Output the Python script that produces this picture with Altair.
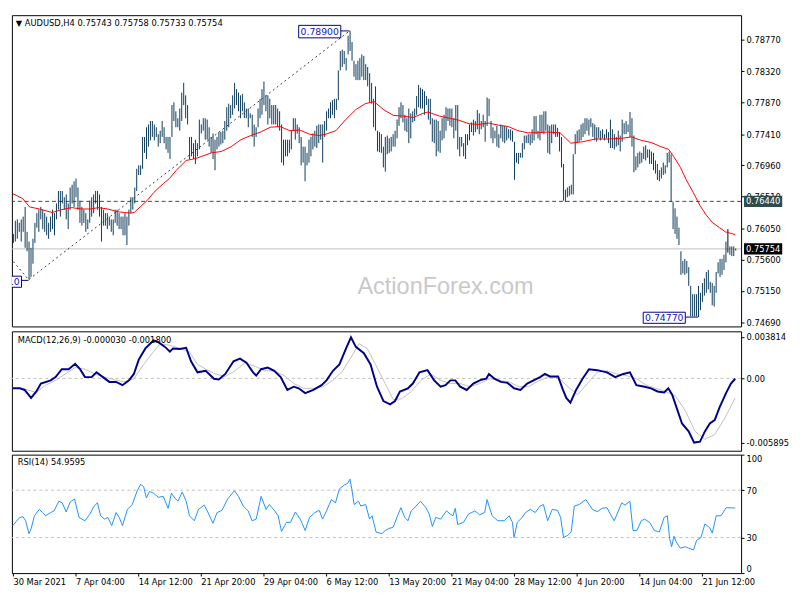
import altair as alt
import pandas as pd

# ---------------- data ----------------
highs = [
    0.7597, 0.7616, 0.7618, 0.7613, 0.7618, 0.7622, 0.7636, 0.7600, 0.7586, 0.7577,
    0.7590, 0.7613, 0.7627, 0.7632, 0.7636, 0.7632, 0.7627, 0.7622, 0.7613, 0.7622,
    0.7632, 0.7627, 0.7641, 0.7659, 0.7659, 0.7659, 0.7650, 0.7654, 0.7641, 0.7664,
    0.7668, 0.7673, 0.7677, 0.7664, 0.7645, 0.7636, 0.7632, 0.7627, 0.7618, 0.7645,
    0.7650, 0.7654, 0.7659, 0.7659, 0.7654, 0.7636, 0.7632, 0.7627, 0.7627, 0.7622,
    0.7618, 0.7618, 0.7632, 0.7632, 0.7627, 0.7622, 0.7622, 0.7627, 0.7622, 0.7632,
    0.7650, 0.7650, 0.7664, 0.7691, 0.7696, 0.7696, 0.7737, 0.7737, 0.7751, 0.7755,
    0.7760, 0.7760, 0.7755, 0.7751, 0.7741, 0.7746, 0.7760, 0.7751, 0.7737, 0.7737,
    0.7737, 0.7783, 0.7787, 0.7774, 0.7764, 0.7778, 0.7801, 0.7815, 0.7797, 0.7783,
    0.7737, 0.7737, 0.7728, 0.7733, 0.7728, 0.7762, 0.7755, 0.7764, 0.7764, 0.7762,
    0.7751, 0.7737, 0.7742, 0.7733, 0.7737, 0.7744, 0.7744, 0.7746, 0.7760, 0.7780,
    0.7785, 0.7783, 0.7797, 0.7815, 0.7806, 0.7801, 0.7797, 0.7799, 0.7787, 0.7778,
    0.7778, 0.7771, 0.7769, 0.7755, 0.7751, 0.7778, 0.7792, 0.7806, 0.7817, 0.7797,
    0.7797, 0.7792, 0.7783, 0.7783, 0.7783, 0.7778, 0.7774, 0.7755, 0.7733, 0.7733,
    0.7733, 0.7733, 0.7746, 0.7764, 0.7764, 0.7755, 0.7751, 0.7737, 0.7723, 0.7723,
    0.7714, 0.7733, 0.7737, 0.7742, 0.7746, 0.7753, 0.7755, 0.7755, 0.7755, 0.7760,
    0.7774, 0.7778, 0.7787, 0.7790, 0.7792, 0.7792, 0.7833, 0.7861, 0.7863, 0.7861,
    0.7851, 0.7883, 0.7890, 0.7874, 0.7847, 0.7842, 0.7847, 0.7851, 0.7856, 0.7854,
    0.7842, 0.7838, 0.7829, 0.7815, 0.7792, 0.7810, 0.7746, 0.7744, 0.7741, 0.7723,
    0.7737, 0.7739, 0.7735, 0.7737, 0.7741, 0.7746, 0.7762, 0.7780, 0.7787, 0.7783,
    0.7769, 0.7764, 0.7778, 0.7771, 0.7774, 0.7778, 0.7796, 0.7812, 0.7808, 0.7806,
    0.7803, 0.7796, 0.7792, 0.7792, 0.7764, 0.7762, 0.7762, 0.7760, 0.7746, 0.7764,
    0.7769, 0.7780, 0.7778, 0.7778, 0.7778, 0.7764, 0.7783, 0.7783, 0.7737, 0.7737,
    0.7728, 0.7741, 0.7741, 0.7755, 0.7758, 0.7762, 0.7760, 0.7776, 0.7771, 0.7760,
    0.7769, 0.7760, 0.7794, 0.7792, 0.7760, 0.7751, 0.7746, 0.7753, 0.7741, 0.7755,
    0.7753, 0.7753, 0.7751, 0.7748, 0.7748, 0.7746, 0.7730, 0.7714, 0.7714, 0.7714,
    0.7728, 0.7739, 0.7739, 0.7741, 0.7741, 0.7748, 0.7767, 0.7767, 0.7746, 0.7769,
    0.7769, 0.7774, 0.7774, 0.7755, 0.7753, 0.7755, 0.7755, 0.7755, 0.7750, 0.7744,
    0.7737, 0.7698, 0.7661, 0.7664, 0.7666, 0.7668, 0.7712, 0.7741, 0.7746, 0.7748,
    0.7755, 0.7757, 0.7764, 0.7764, 0.7762, 0.7764, 0.7757, 0.7755, 0.7751, 0.7751,
    0.7746, 0.7748, 0.7741, 0.7748, 0.7744, 0.7762, 0.7748, 0.7741, 0.7737, 0.7746,
    0.7739, 0.7762, 0.7757, 0.7760, 0.7755, 0.7773, 0.7764, 0.7739, 0.7709, 0.7714,
    0.7716, 0.7714, 0.7723, 0.7725, 0.7719, 0.7719, 0.7716, 0.7714, 0.7703, 0.7698,
    0.7689, 0.7693, 0.7700, 0.7696, 0.7714, 0.7716, 0.7712, 0.7643, 0.7634, 0.7622,
    0.7606, 0.7572, 0.7558, 0.7561, 0.7558, 0.7549, 0.7522, 0.7510, 0.7510, 0.7510,
    0.7522, 0.7512, 0.7526, 0.7533, 0.7542, 0.7545, 0.7528, 0.7526, 0.7522, 0.7542,
    0.7556, 0.7561, 0.7561, 0.7567, 0.7586, 0.7604, 0.7579, 0.7579, 0.7579, 0.7576,
]
lows = [
    0.7584, 0.7586, 0.7590, 0.7600, 0.7586, 0.7600, 0.7577, 0.7572, 0.7531, 0.7535,
    0.7554, 0.7584, 0.7606, 0.7600, 0.7618, 0.7604, 0.7600, 0.7595, 0.7590, 0.7600,
    0.7604, 0.7595, 0.7618, 0.7632, 0.7622, 0.7641, 0.7632, 0.7618, 0.7604, 0.7632,
    0.7641, 0.7636, 0.7650, 0.7632, 0.7613, 0.7609, 0.7613, 0.7600, 0.7604, 0.7613,
    0.7622, 0.7627, 0.7641, 0.7632, 0.7622, 0.7586, 0.7609, 0.7609, 0.7604, 0.7609,
    0.7600, 0.7595, 0.7613, 0.7609, 0.7604, 0.7604, 0.7595, 0.7595, 0.7581, 0.7609,
    0.7627, 0.7632, 0.7641, 0.7659, 0.7682, 0.7682, 0.7691, 0.7714, 0.7705, 0.7723,
    0.7732, 0.7737, 0.7732, 0.7737, 0.7723, 0.7728, 0.7737, 0.7728, 0.7719, 0.7714,
    0.7705, 0.7737, 0.7760, 0.7751, 0.7751, 0.7746, 0.7760, 0.7783, 0.7764, 0.7755,
    0.7705, 0.7709, 0.7705, 0.7698, 0.7709, 0.7719, 0.7742, 0.7746, 0.7733, 0.7733,
    0.7723, 0.7714, 0.7705, 0.7689, 0.7719, 0.7723, 0.7726, 0.7728, 0.7733, 0.7746,
    0.7751, 0.7764, 0.7769, 0.7778, 0.7783, 0.7774, 0.7764, 0.7774, 0.7764, 0.7764,
    0.7751, 0.7764, 0.7737, 0.7723, 0.7737, 0.7751, 0.7764, 0.7769, 0.7783, 0.7774,
    0.7755, 0.7764, 0.7755, 0.7755, 0.7755, 0.7751, 0.7746, 0.7700, 0.7696, 0.7709,
    0.7709, 0.7714, 0.7719, 0.7746, 0.7733, 0.7742, 0.7728, 0.7696, 0.7700, 0.7673,
    0.7696, 0.7700, 0.7709, 0.7719, 0.7723, 0.7721, 0.7728, 0.7733, 0.7700, 0.7737,
    0.7746, 0.7764, 0.7764, 0.7769, 0.7764, 0.7776, 0.7790, 0.7833, 0.7838, 0.7842,
    0.7833, 0.7856, 0.7861, 0.7847, 0.7824, 0.7819, 0.7819, 0.7819, 0.7824, 0.7819,
    0.7819, 0.7810, 0.7787, 0.7785, 0.7751, 0.7746, 0.7716, 0.7715, 0.7714, 0.7693,
    0.7687, 0.7712, 0.7714, 0.7716, 0.7723, 0.7723, 0.7735, 0.7753, 0.7764, 0.7758,
    0.7746, 0.7744, 0.7728, 0.7735, 0.7758, 0.7760, 0.7769, 0.7780, 0.7778, 0.7778,
    0.7769, 0.7783, 0.7762, 0.7755, 0.7730, 0.7728, 0.7709, 0.7716, 0.7714, 0.7732,
    0.7735, 0.7746, 0.7760, 0.7753, 0.7751, 0.7735, 0.7746, 0.7719, 0.7709, 0.7723,
    0.7709, 0.7705, 0.7725, 0.7732, 0.7744, 0.7739, 0.7744, 0.7748, 0.7741, 0.7748,
    0.7751, 0.7730, 0.7753, 0.7767, 0.7735, 0.7728, 0.7735, 0.7723, 0.7721, 0.7735,
    0.7730, 0.7728, 0.7732, 0.7735, 0.7732, 0.7730, 0.7675, 0.7700, 0.7698, 0.7707,
    0.7707, 0.7719, 0.7728, 0.7728, 0.7725, 0.7728, 0.7732, 0.7741, 0.7735, 0.7732,
    0.7744, 0.7741, 0.7746, 0.7714, 0.7712, 0.7728, 0.7741, 0.7737, 0.7737, 0.7716,
    0.7693, 0.7645, 0.7643, 0.7650, 0.7652, 0.7654, 0.7654, 0.7712, 0.7728, 0.7730,
    0.7732, 0.7737, 0.7741, 0.7746, 0.7739, 0.7751, 0.7737, 0.7732, 0.7730, 0.7735,
    0.7732, 0.7735, 0.7732, 0.7735, 0.7728, 0.7721, 0.7721, 0.7719, 0.7723, 0.7725,
    0.7716, 0.7730, 0.7741, 0.7741, 0.7744, 0.7737, 0.7723, 0.7686, 0.7689, 0.7693,
    0.7698, 0.7700, 0.7705, 0.7703, 0.7707, 0.7698, 0.7698, 0.7689, 0.7684, 0.7675,
    0.7673, 0.7677, 0.7682, 0.7684, 0.7693, 0.7700, 0.7643, 0.7604, 0.7597, 0.7590,
    0.7581, 0.7538, 0.7540, 0.7538, 0.7540, 0.7522, 0.7478, 0.7478, 0.7478, 0.7478,
    0.7477, 0.7487, 0.7499, 0.7508, 0.7512, 0.7517, 0.7512, 0.7494, 0.7492, 0.7512,
    0.7540, 0.7535, 0.7538, 0.7545, 0.7556, 0.7570, 0.7567, 0.7565, 0.7565, 0.7573,
]
highlight_bar_idx = [365]

ma_idx = [0, 5, 8.5, 13.5, 20, 25, 30, 35, 40, 43.5, 48.5, 53.5, 57, 60, 62, 65, 68.5, 72,
          77, 80, 83.5, 88.5, 93.5, 96.5, 101.5, 106.5, 111.5, 116.5, 121.5, 126.5, 131.5,
          136.5, 141.5, 146.5, 151.5, 156.5, 160, 165, 170, 175, 180, 184.5, 189.5, 194.5,
          199.5, 204.5, 209.5, 212, 218, 223, 228, 233, 238, 243, 248, 253, 258, 263, 268,
          273, 279.5, 285, 291, 297.5, 304, 311, 316, 321, 326, 331, 335, 337.5, 341, 344,
          347.5, 351, 354, 357.5, 361, 364, 369]
ma_val = [0.7655, 0.7648, 0.7636, 0.7633, 0.7628, 0.7632, 0.7635, 0.7633, 0.7633, 0.7635,
          0.7633, 0.7629, 0.7628, 0.7627, 0.7628, 0.7636, 0.7645, 0.7657, 0.7670, 0.7677,
          0.7689, 0.7703, 0.7706, 0.7709, 0.7714, 0.7716, 0.7723, 0.7733, 0.7739, 0.7744,
          0.7751, 0.7752, 0.7746, 0.7747, 0.7741, 0.7739, 0.7741, 0.7746, 0.7762, 0.7776,
          0.7785, 0.7788, 0.7776, 0.7768, 0.7767, 0.7765, 0.7771, 0.7773, 0.7767, 0.7764,
          0.7761, 0.7756, 0.7755, 0.7757, 0.7754, 0.7752, 0.7746, 0.7743, 0.7743, 0.7744,
          0.7743, 0.7728, 0.7730, 0.7734, 0.7734, 0.7735, 0.7737, 0.7732, 0.7729, 0.7723,
          0.7719, 0.7709, 0.7693, 0.7675, 0.7657, 0.7638, 0.7625, 0.7613, 0.7606, 0.7600,
          0.7596]

macd_idx = [0, 3.5, 6, 9.3, 12, 14.3, 19.3, 21.8, 25, 28.5, 31.8, 34.3, 36.8, 40.2, 42.7,
            46, 49.3, 52.7, 56, 59.3, 61.8, 64.3, 67.7, 71.8, 74.3, 77.7, 80.2, 81.8, 85.2,
            88.5, 91, 94.3, 98.5, 102.7, 105.2, 108.5, 112.7, 116, 119.3, 122.7, 124.3,
            126.8, 130.2, 133.5, 136.8, 140.2, 143.5, 146, 149.3, 153.5, 157.7, 160.2, 163.5,
            166.8, 170.2, 172.7, 175.2, 179.3, 182.7, 186, 189.3, 192.7, 195.2, 197.7, 201.8,
            204.3, 207.7, 211.8, 215.2, 218.5, 221, 223.5, 226, 228.5, 231.8, 235.2, 239.3,
            241.8, 243.2, 246, 249.3, 252.7, 256, 259.3, 262.7, 266, 269.3, 271.8, 274.3,
            278.5, 281, 282.7, 284.8, 287.7, 291, 294.3, 298.5, 303.5, 307.7, 311.8, 315.2,
            318.5, 322.7, 326, 329.3, 332.7, 334.8, 336.8, 339.3, 341.8, 345.2, 348, 351,
            353.5, 356, 358.5, 361, 364.3, 366.8, 369]
macd_val = [-0.00091, -0.00091, -0.00106, -0.00179, -0.00120, -0.00047, -0.00018, 0.00012,
            0.00085, 0.00085, 0.00135, 0.00085, 0.00012, 0.00012, 0.00056, 0.00012, -0.00032,
            -0.00032, -0.00062, -0.00018, 0.00041, 0.00173, 0.00276, 0.00349, 0.00334,
            0.00290, 0.00246, 0.00276, 0.00270, 0.00282, 0.00158, 0.00056, 0.00070, -0.00003,
            -0.00009, 0.00041, 0.00158, 0.00182, 0.00144, 0.00056, 0.00026, 0.00085, 0.00100,
            0.00070, 0.00012, -0.00106, -0.00076, -0.00091, -0.00135, -0.00106, -0.00062,
            -0.00018, 0.00070, 0.00129, 0.00276, 0.00378, 0.00290, 0.00232, 0.00129, -0.00076,
            -0.00208, -0.00238, -0.00208, -0.00120, -0.00091, -0.00047, 0.00056, 0.00076,
            -0.00018, -0.00076, -0.00062, -0.00018, -0.00018, -0.00076, -0.00106, -0.00047,
            -0.00012, -0.00003, 0.00041, -0.00003, -0.00032, -0.00041, -0.00091, -0.00106,
            -0.00047, -0.00018, 0.00012, 0.00041, 0.00018, 0.00018, -0.00106, -0.00179,
            -0.00223, -0.00106, -0.00003, 0.00085, 0.00076, 0.00056, 0.00012, 0.00041,
            0.00056, -0.00062, -0.00076, -0.00091, -0.00120, -0.00129, -0.00091, -0.00150,
            -0.00282, -0.00414, -0.00487, -0.00590, -0.00581, -0.00487, -0.00414, -0.00384,
            -0.00267, -0.00135, -0.00047, -0.00003]

sig_idx = [0, 5, 11.8, 16.8, 21.8, 26.8, 31.8, 36.8, 41.8, 46.8, 51.8, 56.8, 61.8, 66.8,
           71.8, 75.2, 80.2, 85.2, 90.2, 94.3, 98.5, 103.5, 108.5, 113.5, 118.5, 123.5,
           128.5, 133.5, 138.5, 143.5, 148.5, 153.5, 158.5, 163.5, 168.5, 173.5, 176.8, 181,
           185.2, 190.2, 194.3, 198.5, 203.5, 208.5, 213.5, 218.5, 223.5, 228.5, 233.5, 238.5,
           243.5, 248.5, 253.5, 258.5, 263.5, 268.5, 273.5, 278.5, 283.5, 288.5, 293.5, 298.5,
           303.5, 308.5, 313.5, 318.5, 323.5, 328.5, 333.5, 338.5, 343.5, 348.5, 353.5, 358.5,
           363.5, 369]
sig_val = [-0.00091, -0.00091, -0.00129, -0.00062, -0.00018, 0.00041, 0.00100, 0.00085,
           0.00041, 0.00012, -0.00012, -0.00032, -0.00003, 0.00129, 0.00246, 0.00320, 0.00305,
           0.00276, 0.00246, 0.00129, 0.00085, 0.00041, 0.00018, 0.00070, 0.00144, 0.00114,
           0.00070, 0.00070, 0.00026, -0.00047, -0.00091, -0.00091, -0.00076, -0.00018,
           0.00070, 0.00217, 0.00320, 0.00276, 0.00129, -0.00047, -0.00194, -0.00188,
           -0.00120, -0.00018, 0.00041, -0.00018, -0.00047, -0.00047, -0.00076, -0.00047,
           -0.00003, -0.00018, -0.00032, -0.00076, -0.00076, -0.00023, 0.00012, 0.00012,
           -0.00076, -0.00150, -0.00047, 0.00056, 0.00070, 0.00041, 0.00026, -0.00003,
           -0.00062, -0.00091, -0.00120, -0.00164, -0.00296, -0.00487, -0.00560, -0.00516,
           -0.00370, -0.00180]

rsi_idx = [0, 1.8, 3.5, 5.2, 6.5, 8.2, 9.3, 11, 13.5, 15.2, 16.8, 19.3, 21, 23.5, 25.2,
           27.2, 29.3, 31.5, 33.8, 36.8, 39.3, 41.5, 43.2, 44.8, 46.8, 48.5, 50.5, 52.7, 54.3,
           56, 58.5, 61, 63.5, 65.2, 66.8, 68.2, 69.8, 71.8, 74.3, 76.8, 79.3, 81, 82.7, 84.3,
           86.5, 88.5, 90.2, 92.7, 94.8, 97.7, 99.3, 102.2, 104.3, 106.8, 109.8, 113.2, 115.2,
           117.7, 120.2, 122.2, 124.3, 126.8, 129.3, 131, 133.5, 135.5, 137.2, 139.8, 141.8,
           144.3, 146.8, 149.3, 151.5, 154.3, 156.5, 158.2, 160.2, 162.7, 164.8, 166.8, 169.3,
           171, 172.2, 173.2, 174.3, 176.5, 177.7, 180.2, 182.2, 183.5, 185.5, 188.5, 190.2,
           191.8, 194.3, 196.5, 198.2, 200.2, 201.8, 203.5, 206, 208.2, 211, 212.7, 214.3, 216,
           218.5, 221.5, 223.5, 224.8, 226, 227.2, 230.2, 232.7, 236, 238.5, 241, 242.2, 244.8,
           247.7, 251, 253.5, 255.2, 256, 257.7, 260.2, 261.8, 264.3, 266.8, 269.3, 271, 273.2,
           275.5, 278.2, 279.8, 281.3, 283.5, 285.2, 286.8, 289.3, 292.7, 296, 298.5, 301,
           303.5, 305.2, 307.2, 311, 312.7, 315.2, 316.8, 318.8, 321, 322.7, 325.2, 327.7,
           330.2, 332.7, 334.3, 335.5, 336.5, 337.7, 338.8, 341, 343.5, 345.2, 347.7, 349.3,
           351.5, 353.5, 356, 357.3, 359.3, 361.8, 364.3, 368.5, 369]
rsi_val = [40.1, 43.7, 47.0, 47.5, 44.2, 33.3, 37.4, 48.4, 53.8, 51.1, 48.4, 51.1, 52.5, 60.7,
           59.3, 51.6, 60.1, 62.6, 47.0, 44.2, 49.7, 56.6, 59.3, 48.4, 45.6, 47.0, 40.1, 51.1,
           47.0, 40.1, 53.8, 57.9, 69.5, 74.9, 73.0, 63.4, 68.9, 67.5, 64.0, 64.8, 54.7, 67.5,
           63.4, 60.7, 68.4, 60.7, 48.4, 44.2, 53.8, 57.4, 52.5, 42.1, 51.1, 53.0, 62.9, 69.5,
           64.8, 56.6, 52.5, 44.2, 45.6, 64.8, 53.8, 57.9, 53.0, 48.4, 35.2, 42.9, 42.9, 51.6,
           45.6, 36.0, 47.0, 51.1, 53.0, 45.6, 52.5, 62.1, 59.3, 71.1, 74.4, 75.8, 79.3, 70.3,
           57.9, 60.7, 56.6, 57.9, 45.6, 48.4, 34.7, 33.3, 36.0, 37.4, 38.8, 48.4, 55.2, 47.0,
           44.2, 52.5, 56.6, 60.7, 55.2, 49.7, 39.3, 47.0, 45.6, 52.5, 49.7, 48.4, 54.7, 41.0,
           42.9, 49.7, 52.5, 49.2, 51.1, 62.1, 48.4, 44.2, 44.2, 48.4, 42.9, 30.0, 42.9, 47.0,
           51.1, 53.8, 51.1, 56.6, 57.9, 44.2, 53.8, 53.0, 47.0, 30.0, 31.9, 34.7, 56.6, 57.9,
           62.1, 53.8, 51.9, 54.7, 55.2, 49.7, 44.2, 59.3, 57.4, 60.7, 36.0, 36.0, 44.2, 45.6,
           42.9, 36.0, 34.7, 47.0, 48.4, 29.2, 22.3, 31.1, 26.4, 21.0, 22.3, 21.0, 19.6, 27.8,
           30.0, 41.5, 38.2, 33.8, 48.4, 48.4, 55.2, 55.0, 54.96]

time_labels = ["30 Mar 2021", "7 Apr 04:00", "14 Apr 12:00", "21 Apr 20:00", "29 Apr 04:00",
               "6 May 12:00", "13 May 20:00", "21 May 04:00", "28 May 12:00", "4 Jun 20:00",
               "14 Jun 04:00", "21 Jun 12:00"]
time_label_idx = [0, 32, 64, 96, 128, 160, 192, 224, 256, 288, 320, 352]

price_ticks = [0.7877, 0.7832, 0.7787, 0.7741, 0.7696, 0.7651, 0.7605, 0.7560, 0.7515, 0.7469]
macd_ticks = [0.003814, 0.0, -0.005895]
macd_tick_labels = ["0.003814", "0.00", "-0.005895"]
rsi_ticks = [0, 30, 70, 100]

level_line = 0.7644
last_price = 0.75754
zigzag_idx = [-3, 8, 172]
zigzag_val = [0.7568, 0.7531, 0.7890]

ann_text = ["0.78900", "0.74770", "0.75310"]
ann_x0 = [146, 322, -17]
ann_x1 = [167.5, 343.5, 4.4]
ann_lo = [0.7880, 0.7468, 0.7520]
ann_hi = [0.7898, 0.7484, 0.7536]
ann_pt_idx = [172, 350, 8]
ann_pt_val = [0.7890, 0.7477, 0.7530]

title_main = "\u25bc  AUDUSD,H4  0.75743 0.75758 0.75733 0.75754"
title_macd = "MACD(12,26,9) -0.000030 -0.001800"
title_rsi = "RSI(14) 54.9595"

# ---------------- layout constants ----------------
W = 745
H1, H2, H3 = 318, 122, 121
FONT = "DejaVu Sans"
FS = 8.5
BAR_COLOR = "#0a3858"

xs = alt.Scale(domain=[-0.5, 372], nice=False, zero=False)
ps = alt.Scale(domain=[0.74635, 0.79127], nice=False, zero=False)
ms = alt.Scale(domain=[-0.00665, 0.00433], nice=False, zero=False)
rs = alt.Scale(domain=[0, 100], nice=False, zero=False)

bars = pd.DataFrame({"i": list(range(len(highs))), "hi": highs, "lo": lows})
bars["c"] = [("#000000" if k in highlight_bar_idx else BAR_COLOR) for k in bars["i"]]
ma = pd.DataFrame({"i": ma_idx, "v": ma_val})
macd = pd.DataFrame({"i": macd_idx, "v": macd_val})
sig = pd.DataFrame({"i": sig_idx, "v": sig_val})
rsi = pd.DataFrame({"i": rsi_idx, "v": rsi_val})
zz = pd.DataFrame({"i": zigzag_idx, "v": zigzag_val})
ann = pd.DataFrame({"t": ann_text, "x0": ann_x0, "x1": ann_x1, "lo": ann_lo, "hi": ann_hi,
                    "pi": ann_pt_idx, "pv": ann_pt_val})
ann["xc"] = (ann["x0"] + ann["x1"]) / 2
ann["yc"] = (ann["lo"] + ann["hi"]) / 2
hl = pd.DataFrame({"p": [level_line, last_price], "t": ["%.5f" % level_line, "%.5f" % last_price],
                   "bg": ["#2f4b4b", "#000000"]})
hl["lo"] = hl["p"] - 0.0008
hl["hi"] = hl["p"] + 0.0008

price_axis = alt.Axis(orient="right", values=price_ticks, format=".5f", tickSize=3,
                      labelPadding=2, title=None, zindex=0, labelOverlap=False)
X_none = alt.X("i:Q", scale=xs, axis=None)


def PY(field):
    return alt.Y(field, scale=ps, axis=price_axis)


# ---------------- main price panel ----------------
base = alt.Chart(bars)
watermark = alt.Chart(pd.DataFrame({"t": ["ActionForex.com"], "i": [221], "p": [0.7520]})).mark_text(
    font="Liberation Sans", fontSize=24, color="#c9c9c9", align="center", baseline="middle"
).encode(x=X_none, y=PY("p:Q"), text="t:N")

level = alt.Chart(hl.iloc[[0]]).mark_rule(color="#2f4b4b", strokeDash=[4, 3], strokeWidth=1).encode(
    y=PY("p:Q"))
lastline = alt.Chart(hl.iloc[[1]]).mark_rule(color="#c0c0c0", strokeWidth=1).encode(
    y=PY("p:Q"))

bar_rules = base.mark_rule(strokeWidth=1, xOffset=0.5).encode(
    x=X_none, y=PY("hi:Q"), y2="lo:Q", color=alt.Color("c:N", scale=None))

ma_line = alt.Chart(ma).mark_line(color="#ff0000", strokeWidth=1).encode(
    x=X_none, y=PY("v:Q"))

zz_line = alt.Chart(zz).mark_line(color="#3a3a3a", strokeWidth=1, strokeDash=[2, 3], clip=True).encode(
    x=X_none, y=PY("v:Q"))

ann_conn = alt.Chart(ann).mark_rule(color="#000080", strokeWidth=1, clip=True).encode(
    x=alt.X("x1:Q", scale=xs, axis=None), x2="pi:Q", y=PY("pv:Q"))
ann_box = alt.Chart(ann).mark_rect(fill="white", stroke="#000080", strokeWidth=1, clip=True).encode(
    x=alt.X("x0:Q", scale=xs, axis=None), x2="x1:Q", y=PY("lo:Q"), y2="hi:Q")
ann_txt = alt.Chart(ann).mark_text(font=FONT, fontSize=9.5, color="#1515c0", align="center",
                                   baseline="middle", clip=True).encode(
    x=alt.X("xc:Q", scale=xs, axis=None), y=PY("yc:Q"), text="t:N")

hl_box = alt.Chart(hl).mark_rect().encode(
    x=alt.value(W + 3), x2=alt.value(W + 42), y=PY("lo:Q"), y2="hi:Q",
    color=alt.Color("bg:N", scale=None))
hl_txt = alt.Chart(hl).mark_text(font=FONT, fontSize=FS, color="white", align="center",
                                 baseline="middle").encode(
    x=alt.value(W + 22.5), y=PY("p:Q"), text="t:N")

title1 = alt.Chart(pd.DataFrame({"t": [title_main]})).mark_text(
    font=FONT, fontSize=FS, color="black", align="left", baseline="middle").encode(
    x=alt.value(4), y=alt.value(8), text="t:N")

main = alt.layer(watermark, level, lastline, bar_rules, ma_line, zz_line, ann_conn, ann_box,
                 ann_txt, hl_box, hl_txt, title1).properties(width=W, height=H1)

# ---------------- MACD panel ----------------
macd_label_expr = "datum.value > 0.001 ? '%s' : (datum.value < -0.001 ? '%s' : '%s')" % (
    macd_tick_labels[0], macd_tick_labels[2], macd_tick_labels[1])
macd_axis = alt.Axis(orient="right", values=macd_ticks, labelExpr=macd_label_expr, tickSize=3,
                     labelPadding=2, title=None, zindex=0, labelOverlap=False)
zero = alt.Chart(pd.DataFrame({"v": [0.0]})).mark_rule(color="#c0c0c0", strokeDash=[3, 3]).encode(
    y=alt.Y("v:Q", scale=ms, axis=macd_axis))
sig_line = alt.Chart(sig).mark_line(color="#c0c0c0", strokeWidth=1).encode(
    x=X_none, y=alt.Y("v:Q", scale=ms, axis=macd_axis))
macd_line = alt.Chart(macd).mark_line(color="#00008b", strokeWidth=2).encode(
    x=X_none, y=alt.Y("v:Q", scale=ms, axis=macd_axis))
title2 = alt.Chart(pd.DataFrame({"t": [title_macd]})).mark_text(
    font=FONT, fontSize=FS, color="black", align="left", baseline="middle").encode(
    x=alt.value(6), y=alt.value(9), text="t:N")
macd_panel = alt.layer(zero, sig_line, macd_line, title2).properties(width=W, height=H2)

# ---------------- RSI panel ----------------
label_arr = "[" + ",".join("'%s'" % s for s in time_labels) + "]"
x_axis = alt.Axis(values=time_label_idx, labelExpr=label_arr + "[round(datum.value/32)]",
                  labelAlign="left", tickSize=3, labelPadding=2, title=None,
                  labelOverlap=False, labelBound=False, zindex=0)
rsi_axis = alt.Axis(orient="right", values=rsi_ticks, format="d", tickSize=3, labelPadding=2,
                    labelFlush=True, title=None, zindex=0, labelOverlap=False)
lvl = alt.Chart(pd.DataFrame({"v": [30, 70]})).mark_rule(color="#c0c0c0", strokeDash=[3, 3]).encode(
    y=alt.Y("v:Q", scale=rs, axis=rsi_axis))
rsi_line = alt.Chart(rsi).mark_line(color="#1e90ff", strokeWidth=1).encode(
    x=alt.X("i:Q", scale=xs, axis=x_axis), y=alt.Y("v:Q", scale=rs, axis=rsi_axis))
title3 = alt.Chart(pd.DataFrame({"t": [title_rsi]})).mark_text(
    font=FONT, fontSize=FS, color="black", align="left", baseline="middle").encode(
    x=alt.value(6), y=alt.value(8), text="t:N")
rsi_panel = alt.layer(lvl, rsi_line, title3).properties(width=W, height=H3)

chart = alt.vconcat(main, macd_panel, rsi_panel, spacing=2).properties(
    padding={"left": 0, "top": 0, "right": 2, "bottom": 0}
).configure_view(stroke="#000000", strokeWidth=1).configure_axis(
    labelFont=FONT, labelFontSize=FS, labelColor="#000000", tickColor="#000000",
    domain=False, grid=False, labelOverlap=False
)

chart.save("out.html", embed_options={"renderer": "svg", "actions": False})
